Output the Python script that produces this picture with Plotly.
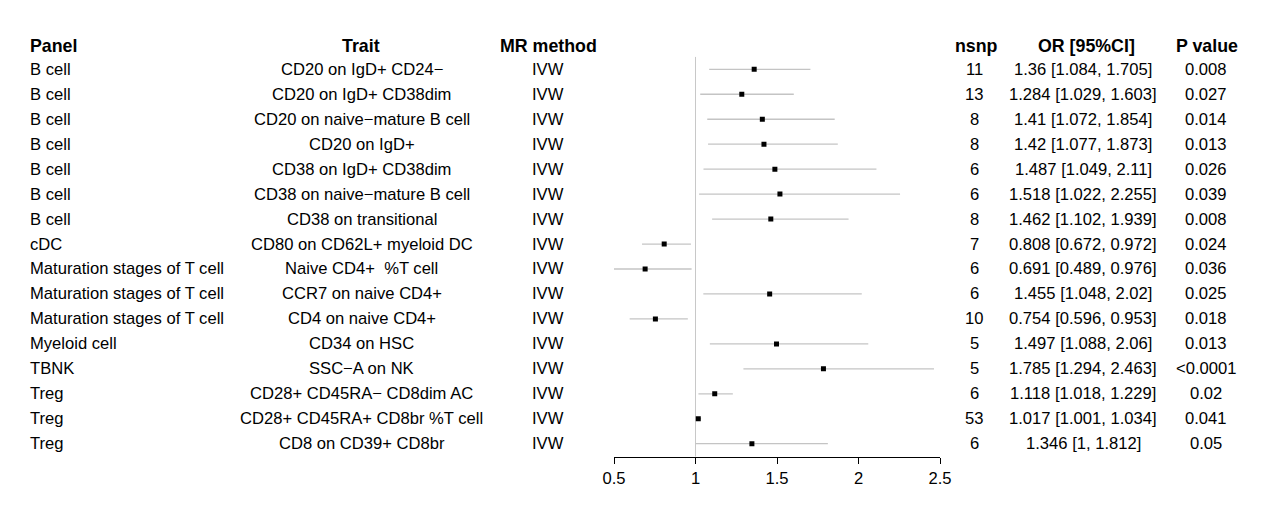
import plotly.graph_objects as go

panels = ["B cell", "B cell", "B cell", "B cell", "B cell", "B cell", "B cell", "cDC",
          "Maturation stages of T cell", "Maturation stages of T cell", "Maturation stages of T cell",
          "Myeloid cell", "TBNK", "Treg", "Treg", "Treg"]
traits = ["CD20 on IgD+ CD24\u2212", "CD20 on IgD+ CD38dim", "CD20 on naive\u2212mature B cell",
          "CD20 on IgD+", "CD38 on IgD+ CD38dim", "CD38 on naive\u2212mature B cell",
          "CD38 on transitional", "CD80 on CD62L+ myeloid DC", "Naive CD4+\u00a0 %T cell",
          "CCR7 on naive CD4+", "CD4 on naive CD4+", "CD34 on HSC", "SSC\u2212A on NK",
          "CD28+ CD45RA\u2212 CD8dim AC", "CD28+ CD45RA+ CD8br %T cell", "CD8 on CD39+ CD8br"]
methods = ["IVW"] * 16
nsnp = [11, 13, 8, 8, 6, 6, 8, 7, 6, 6, 10, 5, 5, 6, 53, 6]
or_vals = [1.36, 1.284, 1.41, 1.42, 1.487, 1.518, 1.462, 0.808, 0.691, 1.455, 0.754, 1.497, 1.785, 1.118, 1.017, 1.346]
ci_lo = [1.084, 1.029, 1.072, 1.077, 1.049, 1.022, 1.102, 0.672, 0.489, 1.048, 0.596, 1.088, 1.294, 1.018, 1.001, 1.0]
ci_hi = [1.705, 1.603, 1.854, 1.873, 2.11, 2.255, 1.939, 0.972, 0.976, 2.02, 0.953, 2.06, 2.463, 1.229, 1.034, 1.812]
pvals = ["0.008", "0.027", "0.014", "0.013", "0.026", "0.039", "0.008", "0.024", "0.036",
         "0.025", "0.018", "0.013", "&lt;0.0001", "0.02", "0.041", "0.05"]
headers = ["Panel", "Trait", "MR method", "nsnp", "OR [95%CI]", "P value"]
tick_vals = [0.5, 1, 1.5, 2, 2.5]
tick_text = ["0.5", "1", "1.5", "2", "2.5"]

W, H = 1267, 509
FONT = "Liberation Sans, Arial, Helvetica, sans-serif"
rows = list(range(len(panels)))

ci_x, ci_y = [], []
for i, (a, b) in enumerate(zip(ci_lo, ci_hi)):
    ci_x += [a, b, None]
    ci_y += [i, i, None]

fig = go.Figure()
fig.add_trace(go.Scatter(x=ci_x, y=ci_y, mode="lines",
                         line=dict(color="#c4c4c4", width=1.3), hoverinfo="skip", showlegend=False))
fig.add_trace(go.Scatter(x=or_vals, y=rows, mode="markers",
                         marker=dict(symbol="square", size=5, color="black", line=dict(width=0)),
                         showlegend=False))

fig.add_shape(type="line", xref="x", yref="y", x0=1, x1=1, y0=-0.505, y1=15.52,
              line=dict(color="#c8c8c8", width=1), layer="below")

def fmt(v):
    return f"{v:g}"

or_text = [f"{fmt(o)} [{fmt(a)}, {fmt(b)}]" for o, a, b in zip(or_vals, ci_lo, ci_hi)]

cols = [
    (28, "left", panels),
    (361.5, "center", traits),
    (548, "center", methods),
    (974, "center", [str(n) for n in nsnp]),
    (1083, "center", or_text),
    (1206, "center", pvals),
]
header_x = [28, 361, 548, 976, 1086, 1207]

for (px, anchor, vals), hx, htxt in zip(cols, header_x, headers):
    fig.add_annotation(x=hx / W, y=1 - 45.5 / H, xref="paper", yref="paper", text=f"<b>{htxt}</b>",
                       showarrow=False, xanchor=anchor, yanchor="middle",
                       font=dict(family=FONT, size=17.8, color="black"))
    for i, v in enumerate(vals):
        fig.add_annotation(x=px / W, y=i, xref="paper", yref="y", text=v,
                           showarrow=False, xanchor=anchor, yanchor="middle",
                           font=dict(family=FONT, size=16.6, color="black"))

fig.update_layout(
    width=W, height=H,
    margin=dict(l=0, r=0, t=0, b=0, pad=0, autoexpand=False),
    paper_bgcolor="white", plot_bgcolor="white",
    xaxis=dict(domain=[614 / W, 940 / W], range=[0.5, 2.5], tickvals=tick_vals, ticktext=tick_text,
               showgrid=False, zeroline=False, showline=True, linecolor="black", linewidth=1.3,
               ticks="outside", ticklen=6, tickwidth=1.3, tickcolor="black", automargin=False,
               tickfont=dict(family=FONT, size=16.6, color="black")),
    yaxis=dict(domain=[1 - 456.7 / H, 1 - 56.7 / H], range=[15.52, -0.505], visible=False,
               showgrid=False, zeroline=False, automargin=False),
)

fig.write_html("out.html", config={"displayModeBar": False},
               post_script="document.body.style.margin='0';document.body.style.padding='0';"
                           "document.documentElement.style.overflow='hidden';")
